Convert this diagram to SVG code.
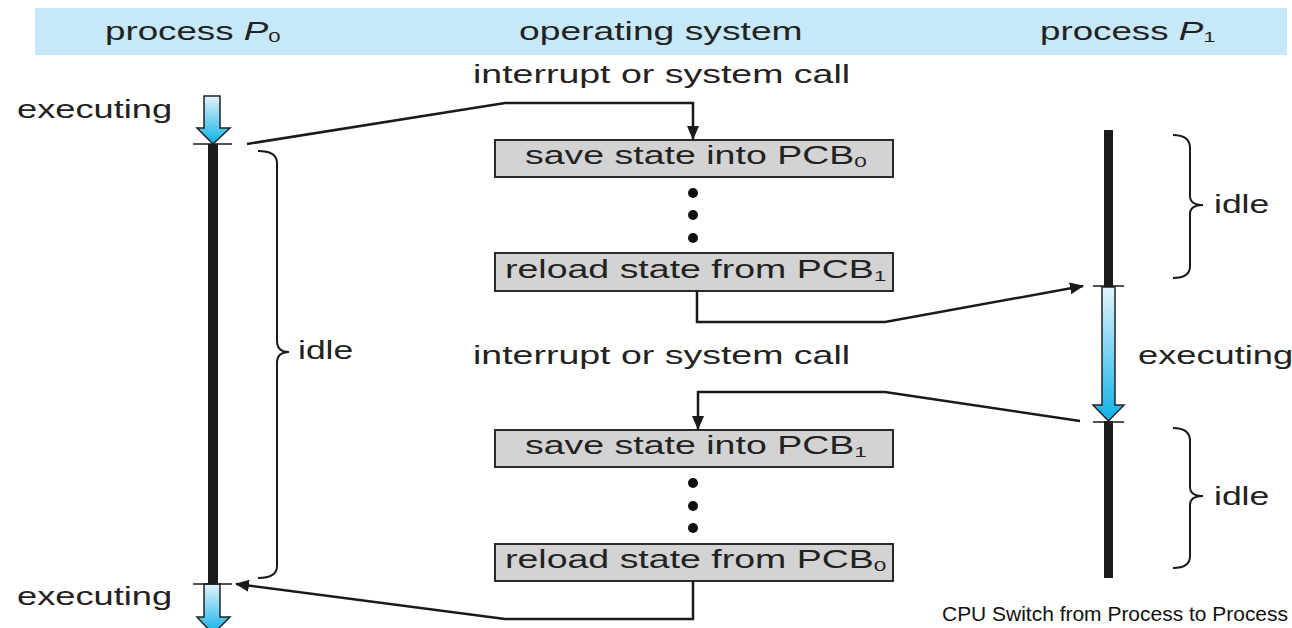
<svg xmlns="http://www.w3.org/2000/svg" width="1292" height="628" viewBox="0 0 1292 628">
<style>
.t{font-family:"Liberation Sans",Arial,sans-serif;font-size:25px;fill:#222}
.sub{font-size:15px}
.box{fill:#d3d3d3;stroke:#2a2a2a;stroke-width:2}
.conn{fill:none;stroke:#1a1a1a;stroke-width:2.5;stroke-linejoin:miter}
.tick{stroke:#1a1a1a;stroke-width:1.5}
.bar{fill:#1a1a1a}
.brace{fill:none;stroke:#1a1a1a;stroke-width:2}
.arr{stroke:#222;stroke-width:1.5;fill:url(#g)}
.dot{fill:#111}
</style>
<defs>
<linearGradient id="g" x1="0" y1="0" x2="0" y2="1">
<stop offset="0" stop-color="#e2f4fc"/>
<stop offset="1" stop-color="#0db1e8"/>
</linearGradient>
<marker id="ah" viewBox="0 0 14 12" refX="13" refY="6" markerWidth="14" markerHeight="12" markerUnits="userSpaceOnUse" orient="auto">
<path d="M0,0 L14,6 L0,12 Z" fill="#1a1a1a"/>
</marker>
</defs>

<g id="header">
<rect x="35" y="8" width="1252" height="47" fill="#c7e8f8"/>
<text class="t" transform="translate(105,40) scale(1.47,1)">process <tspan font-style="italic">P</tspan><tspan class="sub" dy="2">0</tspan></text>
<text class="t" transform="translate(519,40) scale(1.49,1)">operating system</text>
<text class="t" transform="translate(1040,40) scale(1.47,1)">process <tspan font-style="italic">P</tspan><tspan class="sub" dy="2">1</tspan></text>
</g>

<g id="p0">
<rect class="bar" x="208" y="144" width="10" height="440"/>
<path class="arr" d="M204,96 L220,96 L220,128 L230,128 L213,144 L197,128 L204,128 Z"/>
<path class="arr" d="M204,584 L220,584 L220,617 L230,617 L213,634 L197,617 L204,617 Z"/>
<line class="tick" x1="193" y1="144" x2="232" y2="144"/>
<line class="tick" x1="193" y1="584" x2="232" y2="584"/>
<path class="brace" d="M258,151 Q277,151 277,163 L277,341 Q277,352 289,352 Q277,352 277,363 L277,566 Q277,578 258,578"/>
<text class="t" transform="translate(17,118) scale(1.45,1)">executing</text>
<text class="t" transform="translate(17,605) scale(1.45,1)">executing</text>
<text class="t" transform="translate(298,359) scale(1.42,1)">idle</text>
</g>

<g id="p1">
<rect class="bar" x="1104" y="130" width="9" height="157"/>
<rect class="bar" x="1104" y="421" width="9" height="157"/>
<path class="arr" d="M1102,287 L1115,287 L1115,405 L1124,405 L1108.5,421 L1093,405 L1102,405 Z"/>
<line class="tick" x1="1093" y1="286" x2="1124" y2="286"/>
<line class="tick" x1="1093" y1="422" x2="1124" y2="422"/>
<path class="brace" d="M1173,135 Q1190,135 1190,148 L1190,196 Q1190,205 1203,205 Q1190,205 1190,214 L1190,266 Q1190,278 1173,278"/>
<path class="brace" d="M1173,428 Q1190,428 1190,441 L1190,487 Q1190,496 1203,496 Q1190,496 1190,505 L1190,556 Q1190,568 1173,568"/>
<text class="t" transform="translate(1214,213) scale(1.42,1)">idle</text>
<text class="t" transform="translate(1214,505) scale(1.42,1)">idle</text>
<text class="t" transform="translate(1138,364) scale(1.45,1)">executing</text>
</g>

<g id="os">
<text class="t" transform="translate(473,83) scale(1.5,1)">interrupt or system call</text>
<text class="t" transform="translate(473,364) scale(1.5,1)">interrupt or system call</text>
<g id="box1">
<rect class="box" x="495" y="140" width="398" height="37"/>
<text class="t" transform="translate(525,164) scale(1.5,1)">save state into PCB<tspan class="sub" dy="3">0</tspan></text>
</g>
<g id="box2">
<rect class="box" x="495" y="253" width="398" height="38"/>
<text class="t" transform="translate(505,278) scale(1.5,1)">reload state from PCB<tspan class="sub" dy="3">1</tspan></text>
</g>
<g id="box3">
<rect class="box" x="495" y="430" width="398" height="37"/>
<text class="t" transform="translate(525,454) scale(1.5,1)">save state into PCB<tspan class="sub" dy="3">1</tspan></text>
</g>
<g id="box4">
<rect class="box" x="495" y="544" width="398" height="37"/>
<text class="t" transform="translate(505,568) scale(1.5,1)">reload state from PCB<tspan class="sub" dy="3">0</tspan></text>
</g>
<circle class="dot" cx="693" cy="193" r="5"/>
<circle class="dot" cx="693" cy="215" r="5"/>
<circle class="dot" cx="693" cy="238" r="5"/>
<circle class="dot" cx="693" cy="483" r="5"/>
<circle class="dot" cx="693" cy="506" r="5"/>
<circle class="dot" cx="693" cy="528" r="5"/>
</g>

<g id="connectors">
<path class="conn" d="M247,144 L505,103 L693,103 L693,139" marker-end="url(#ah)"/>
<path class="conn" d="M697,291 L697,322 L885,322 L1083,286" marker-end="url(#ah)"/>
<path class="conn" d="M1080,421 L885,392 L698,392 L698,429" marker-end="url(#ah)"/>
<path class="conn" d="M693,581 L693,619 L505,619 L236,584" marker-end="url(#ah)"/>
</g>

<text font-family="'Liberation Sans',Arial,sans-serif" font-size="20" fill="#111" x="942" y="621" textLength="346" lengthAdjust="spacingAndGlyphs">CPU Switch from Process to Process</text>
</svg>
